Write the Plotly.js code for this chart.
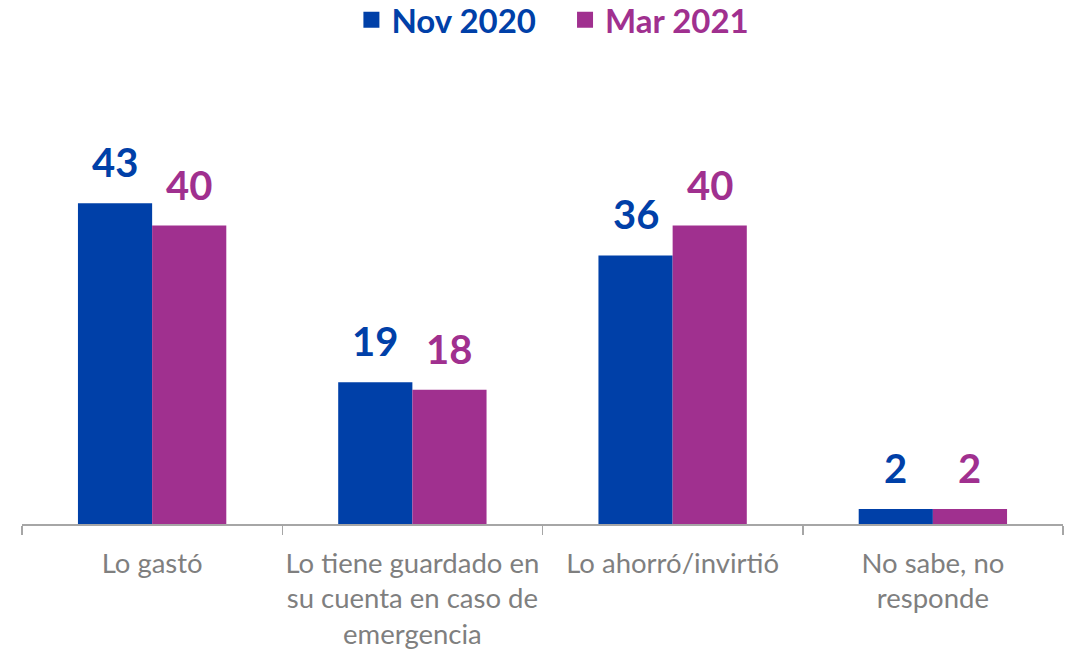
<!DOCTYPE html>
<html>
<head>
<meta charset="utf-8">
<script src="https://cdn.plot.ly/plotly-3.0.1.min.js"></script>
<style>html,body{margin:0;padding:0;background:#fff;}#chart{width:1071px;height:650px;}</style>
</head>
<body>
<div id="chart"></div>
<script>
const categories = [
  "Lo gastó",
  "Lo tiene guardado en<br>su cuenta en caso de<br>emergencia",
  "Lo ahorró/invirtió",
  "No sabe, no<br>responde"
];
const seriesNames = ["Nov 2020", "Mar 2021"];
const nov2020 = [43, 19, 36, 2];
const mar2021 = [40, 18, 40, 2];
const colors = ["#0040a8", "#a0308f"];

const bargap = 0.43;
const allSeries = [nov2020, mar2021];

const traces = [];
allSeries.forEach((vals, s) => {
  traces.push({
    type: "bar",
    x: categories,
    y: vals,
    name: seriesNames[s],
    marker: {color: colors[s]},
    showlegend: false,
    hoverinfo: "skip"
  });
});
// legend entries
allSeries.forEach((vals, s) => {
  traces.push({
    type: "scatter",
    mode: "markers",
    x: [null],
    y: [null],
    name: "<span style='color:" + colors[s] + "'>" + seriesNames[s] + "</span>" + (s === 0 ? "&nbsp;&nbsp;&nbsp;" : ""),
    marker: {symbol: "square", size: 22, color: colors[s]},
    showlegend: true
  });
});

// data labels via annotations, positioned in axis units
const annotations = [];
const half = (1 - bargap) / 4;
allSeries.forEach((vals, s) => {
  vals.forEach((v, i) => {
    annotations.push({
      x: i + (s === 0 ? -half : half),
      y: v,
      xref: "x",
      yref: "y",
      text: "<b>" + v + "</b>",
      showarrow: false,
      yanchor: "bottom",
      yshift: 15,
      font: {family: "Lato, 'Open Sans', sans-serif", size: 40, color: colors[s]}
    });
  });
});

const layout = {
  width: 1071,
  height: 650,
  margin: {l: 22, r: 8, t: 151, b: 126, autoexpand: false},
  paper_bgcolor: "#fff",
  plot_bgcolor: "#fff",
  barmode: "group",
  bargap: bargap,
  bargroupgap: 0,
  showlegend: true,
  legend: {
    orientation: "h",
    x: 0.51,
    xanchor: "center",
    y: 1.427,
    yanchor: "top",
    font: {family: "Lato, 'Open Sans', sans-serif", size: 33, weight: "bold", color: "#0040a8"},
    itemsizing: "trace",
    itemwidth: 30,
    traceorder: "normal"
  },
  xaxis: {
    type: "category",
    range: [-0.5, 3.5],
    showline: true,
    linecolor: "#a6a6a6",
    linewidth: 1.5,
    ticks: "outside",
    tickson: "boundaries",
    ticklen: 9,
    tickcolor: "#a6a6a6",
    tickwidth: 1.5,
    tickangle: 0,
    showgrid: false,
    zeroline: false,
    fixedrange: true,
    tickfont: {family: "Lato, 'Open Sans', sans-serif", size: 27.5, color: "#7f7f7f"},
    ticklabelstandoff: 14
  },
  yaxis: {
    range: [0, 50],
    visible: false,
    showgrid: false,
    zeroline: false,
    fixedrange: true
  },
  annotations: annotations
};

Plotly.newPlot("chart", traces, layout, {displayModeBar: false, staticPlot: true});
</script>
</body>
</html>
